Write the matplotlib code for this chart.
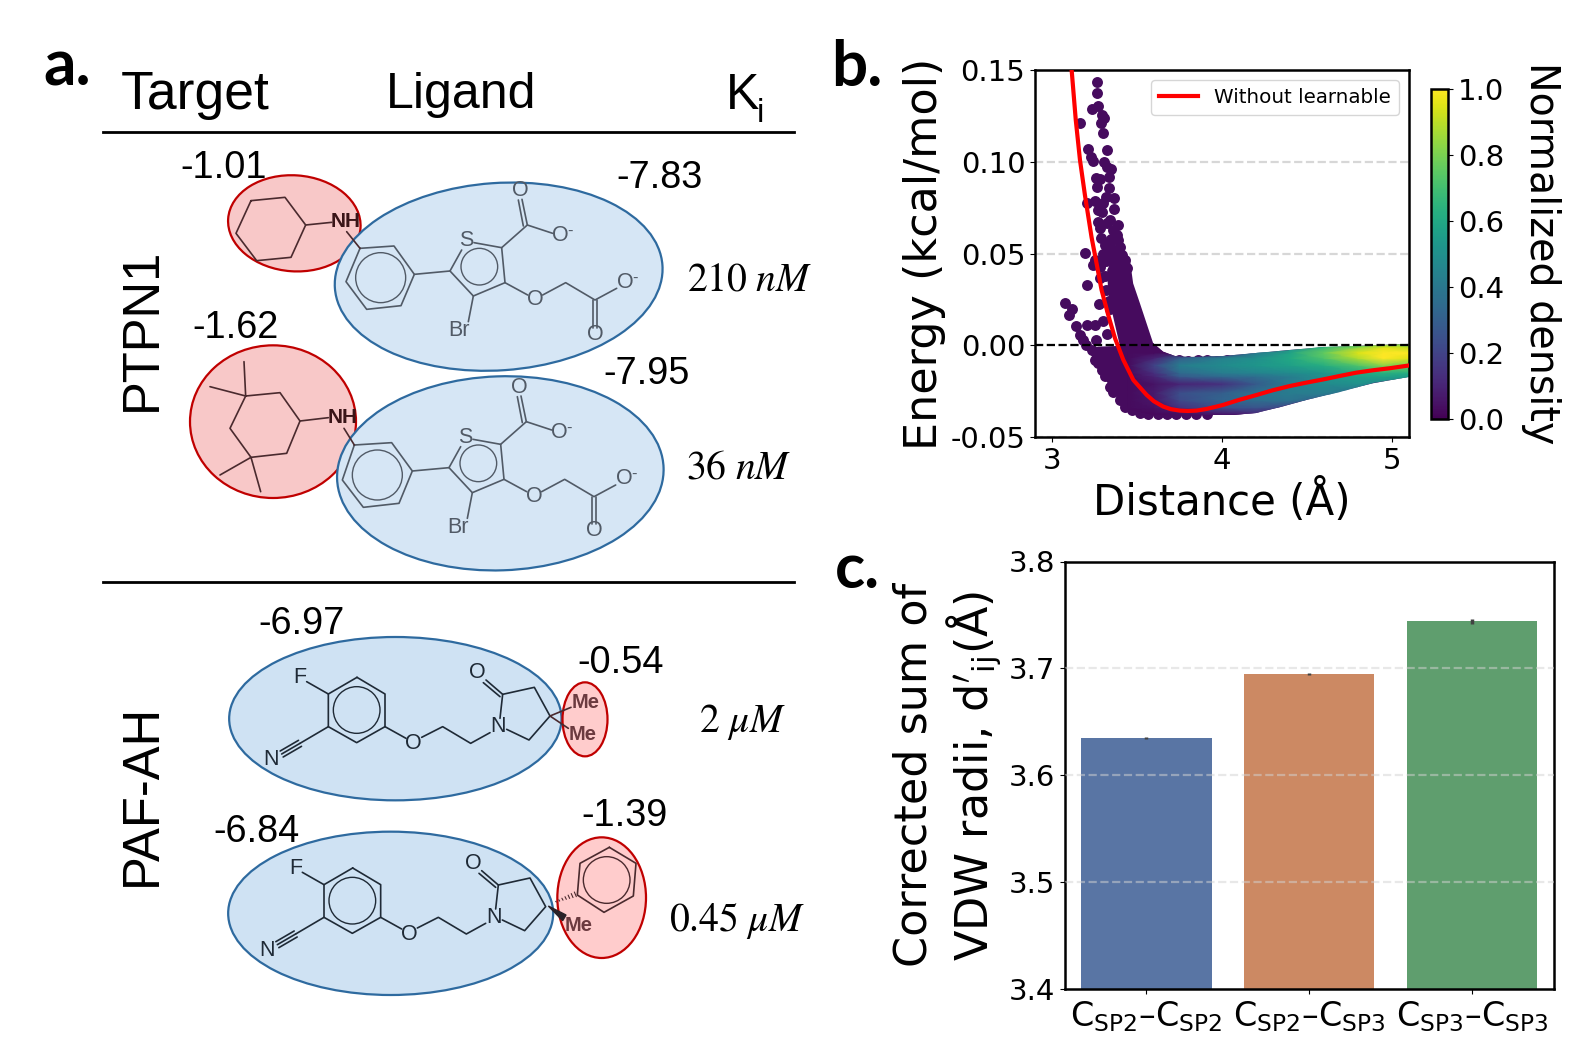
import matplotlib

matplotlib.use("Agg")
import matplotlib.pyplot as plt
import numpy as np
from matplotlib.cm import ScalarMappable
from matplotlib.colors import Normalize
from matplotlib.patches import Circle, Ellipse, Polygon

W, H = 1595, 1058

# panel b: LJ curve without the learnable part
curve_dist = [3.10, 3.116, 3.14, 3.165, 3.194, 3.233, 3.263, 3.292, 3.331, 3.371, 3.42, 3.479, 3.557, 3.60, 3.655,
              3.70, 3.753, 3.80, 3.851, 3.91, 3.969, 4.008, 4.10, 4.204, 4.30, 4.40, 4.50, 4.596, 4.70, 4.792,
              4.89, 4.988, 5.1]
curve_energy = [0.173, 0.15, 0.123, 0.101, 0.082, 0.059, 0.0445, 0.0302, 0.0166, 0.0039, -0.0079, -0.0189, -0.027,
                -0.0305, -0.0334, -0.0348, -0.0356, -0.0358, -0.0356, -0.0347, -0.0334, -0.0325, -0.0298, -0.0271,
                -0.0245, -0.0222, -0.0203, -0.0186, -0.0166, -0.0149, -0.0136, -0.0125, -0.011]

# single points that can be told apart
point_dist = [3.263, 3.263, 3.269, 3.237, 3.296, 3.306, 3.288, 3.165, 3.298, 3.214, 3.326, 3.229, 3.243, 3.306,
              3.326, 3.345, 3.335, 3.257, 3.282, 3.263, 3.337, 3.318, 3.365, 3.253, 3.204, 3.302, 3.367, 3.273,
              3.292, 3.341, 3.273, 3.322, 3.39, 3.282, 3.361, 3.288, 3.38, 3.39, 3.194, 3.312, 3.4, 3.322, 3.41,
              3.253, 3.429, 3.243, 3.292, 3.351, 3.439, 3.282,
              3.204, 3.077, 3.116, 3.102, 3.141, 3.208, 3.253, 3.298, 3.277, 3.322, 3.165, 3.184, 3.257, 3.2,
              3.233, 3.312, 3.341, 3.273, 3.4, 3.282,
              3.253, 3.292, 3.361, 3.429, 3.469, 3.518, 3.567, 3.626, 3.675, 3.733, 3.792, 3.851, 3.91,
              3.66, 3.71, 3.75, 3.80, 3.86, 3.91, 3.97, 4.03, 4.09, 4.15,
              3.30, 3.32, 3.34, 3.37, 3.39, 3.41, 3.43, 3.44, 3.455, 3.47, 3.315, 3.32, 3.335, 3.34, 3.35, 3.36]
point_energy = [0.1438, 0.1374, 0.1305, 0.1287, 0.1256, 0.1242, 0.1211, 0.1211, 0.116, 0.1071, 0.1064, 0.1029,
                0.1007, 0.1002, 0.0975, 0.096, 0.092, 0.0915, 0.0905, 0.0862, 0.0856, 0.0811, 0.0802, 0.0789,
                0.0775, 0.0775, 0.0746, 0.0738, 0.0729, 0.0684, 0.0675, 0.0665, 0.0656, 0.0638, 0.0629, 0.0584,
                0.0602, 0.0575, 0.0502, 0.0547, 0.0538, 0.0511, 0.0493, 0.0466, 0.0466, 0.0438, 0.0457, 0.0466,
                0.042, 0.0429,
                0.0331, 0.0229, 0.0201, 0.0166, 0.0106, 0.0111, 0.0111, 0.0133, 0.0226, 0.0062, 0.0057, 0.0029,
                0.0029, 0.0002, -0.0025, -0.0167, -0.0225, -0.0098, -0.0298, 0.0366,
                -0.0079, -0.0134, -0.0252, -0.0334, -0.0352, -0.0367, -0.0372, -0.0372, -0.0372, -0.0372,
                -0.0372, -0.0374, -0.0374,
                -0.0080, -0.0083, -0.0080, -0.0084, -0.0082, -0.0080, -0.0083, -0.0079, -0.0078, -0.0076,
                0.05, 0.046, 0.056, 0.052, 0.048, 0.043, 0.037, 0.033, 0.028, 0.024, 0.038, 0.03, 0.024, 0.02,
                0.058, 0.047]

# outline of the dense cloud
cloud_dist = [3.36, 3.459, 3.478, 3.518, 3.557, 3.596, 3.655, 3.724, 3.812, 4.008, 4.204, 4.4, 4.596, 4.792, 5.1,
              5.1, 4.89, 4.694, 4.498, 4.341, 4.204, 4.067, 3.91, 3.6, 3.45, 3.4, 3.33, 3.27, 3.215, 3.27, 3.4,
              3.36, 3.331, 3.325]
cloud_energy = [0.048, 0.0466, 0.0338, 0.0229, 0.012, 0.0011, -0.0034, -0.0058, -0.0065, -0.0058, -0.0043, -0.0025,
                -0.0011, -0.0003, 0.0008,
                -0.0172, -0.0207, -0.0252, -0.0298, -0.0338, -0.0367, -0.038, -0.0378, -0.0378, -0.0345, -0.03,
                -0.021, -0.011, -0.003, -0.0007, -0.0003, 0.0157, 0.0284, 0.0411]

# density
density_dist = [3.45, 3.6, 3.75, 4.0, 4.2, 4.4, 4.6, 4.8, 4.95, 5.1]
density_energy = [-0.039, -0.037, -0.034, -0.03, -0.026, -0.021, -0.017, -0.015, -0.011, -0.007, -0.004, -0.001, 0.001]
density = [
    [.02, .02, .02, .02, .03, .03, .03, .03, .03, .03],
    [.02, .02, .04, .08, .12, .05, .03, .03, .03, .03],
    [.03, .04, .14, .24, .26, .20, .10, .05, .05, .05],
    [.03, .06, .22, .32, .36, .38, .30, .20, .20, .20],
    [.03, .07, .24, .30, .38, .42, .42, .35, .30, .30],
    [.03, .05, .10, .14, .28, .42, .48, .50, .45, .40],
    [.03, .10, .28, .34, .36, .42, .50, .56, .58, .55],
    [.03, .14, .34, .42, .45, .48, .52, .60, .64, .62],
    [.03, .20, .42, .48, .52, .56, .62, .72, .82, .78],
    [.03, .10, .30, .44, .50, .60, .72, .88, 1.0, .95],
    [.03, .03, .03, .12, .40, .58, .76, .95, 1.0, 1.0],
    [.03, .03, .03, .03, .12, .48, .66, .82, .95, .90],
    [.03, .03, .03, .03, .03, .12, .50, .66, .78, .75],
]

# panel c
bond_types = [r"$\mathregular{C_{SP2}}$–$\mathregular{C_{SP2}}$",
              r"$\mathregular{C_{SP2}}$–$\mathregular{C_{SP3}}$",
              r"$\mathregular{C_{SP3}}$–$\mathregular{C_{SP3}}$"]
radii = [3.635, 3.695, 3.744]
radii_err = [0.0012, 0.0012, 0.0022]
bar_colors = ["#5975a4", "#cc8963", "#5f9e6e"]

# panel a labels: x, y centre, text
energies = [(223.8, 167.8, "-1.01"), (659, 178, "-7.83"), (235, 328.5, "-1.62"), (647, 374.3, "-7.95"),
            (302, 624.5, "-6.97"), (620.5, 663, "-0.54"), (256.3, 832, "-6.84"), (624.6, 815.7, "-1.39")]
ki_labels = [(749.7, 279.7, r"$210\ nM$"), (738.5, 467.9, r"$36\ nM$"),
             (742.6, 722, r"$2\ \mu M$"), (737.5, 920.5, r"$0.45\ \mu M$")]

BLUE_FILL, BLUE_EDGE = "#d6e6f5", "#2e6a9f"
BLUE_FILL2 = "#cfe2f3"
RED_FILL, RED_EDGE = "#f8c8c8", "#c00000"
RED_FILL2 = "#ffcccc"
BOND_GRAY = "#515a66"
BOND_DARK = "#1f2a36"
BOND_RED = "#4a2a2e"


def px_axes(fig, left, top, right, bottom):
    return fig.add_axes([left / W, 1 - bottom / H, (right - left) / W, (bottom - top) / H])


fig = plt.figure(figsize=(W / 100, H / 100), dpi=100)
canvas = fig.add_axes([0, 0, 1, 1])
canvas.set_xlim(0, W)
canvas.set_ylim(H, 0)
canvas.axis("off")


class Sketch:
    """Draws on the canvas using the 3x coordinates of the crops it was traced from."""

    def __init__(self, ox, oy):
        self.ox, self.oy = ox, oy

    def xy(self, x, y):
        return self.ox + x / 3, self.oy + y / 3

    def ellipse(self, x, y, w, h, angle, fill, edge):
        canvas.add_patch(Ellipse(self.xy(x, y), w / 3, h / 3, angle=angle, facecolor=fill, edgecolor=edge, lw=1.6))

    def line(self, pts, color, lw=1.2):
        p = np.array([self.xy(*q) for q in pts])
        canvas.plot(p[:, 0], p[:, 1], color=color, lw=lw, solid_capstyle="round")

    def ring(self, pts, color):
        self.line(pts + pts[:1], color)

    def circle(self, x, y, r, color):
        canvas.add_patch(Circle(self.xy(x, y), r / 3, fill=False, edgecolor=color, lw=1.0))

    def atom(self, x, y, s, color, size=15.5, weight="normal"):
        px, py = self.xy(x, y)
        canvas.text(px, py, s, color=color, fontsize=size, family="Liberation Sans", weight=weight,
                    ha="center", va="center")


def thiophene_ligand(sk, dx, dy, benzene, ring_c, color):
    def mv(pts):
        return [(x + dx, y + dy) for x, y in pts]

    sk.ring(benzene, color)
    sk.circle(ring_c[0], ring_c[1], 75, color)
    sk.line([benzene[2], mv([(840, 393)])[0]], color)
    sk.line(mv([(875, 330), (840, 393), (910, 468), (1005, 428), (995, 323), (912, 308)]), color)
    sk.circle(928 + dx, 380 + dy, 55, color)
    sk.line(mv([(995, 323), (1072, 255), (1148, 280)]), color)
    sk.line(mv([(1072, 255), (1056, 178)]), color)
    sk.line(mv([(1060, 258), (1045, 180)]), color)
    sk.line(mv([(1005, 428), (1073, 465)]), color)
    sk.line(mv([(1118, 465), (1187, 428), (1275, 480), (1340, 445)]), color)
    sk.line(mv([(1270, 480), (1270, 563)]), color)
    sk.line(mv([(1282, 480), (1282, 563)]), color)
    sk.line(mv([(910, 468), (895, 545)]), color)
    for x, y, s in [(890, 302, "S"), (1050, 152, "O"), (1172, 287, "O"), (1095, 478, "O"),
                    (1367, 427, "O"), (1275, 583, "O"), (868, 572, "Br")]:
        sk.atom(x + dx, y + dy, s, color)
    sk.atom(1200 + dx, 274 + dy, "-", color, size=12)
    sk.atom(1395 + dx, 414 + dy, "-", color, size=12)


def pyrrolidone_ligand(sk, dx, dy, color):
    def mv(pts):
        return [(x + dx, y + dy) for x, y in pts]

    sk.ring(mv([(471, 232), (555, 282), (555, 380), (470, 428), (385, 380), (385, 282)]), color)
    sk.circle(470 + dx, 330 + dy, 70, color)
    sk.line(mv([(385, 282), (320, 245)]), color)
    sk.line(mv([(385, 380), (300, 430)]), color)
    for off in [-9, 0, 9]:
        sk.line(mv([(300 + off * .5, 430 + off), (245 + off * .5, 462 + off)]), color)
    sk.line(mv([(555, 380), (618, 415)]), color)
    sk.line(mv([(665, 412), (728, 380), (812, 430), (870, 398)]), color)
    sk.line(mv([(900, 355), (908, 283), (1003, 262), (1050, 348), (987, 420), (920, 388)]), color)
    sk.line(mv([(908, 283), (858, 240)]), color)
    sk.line(mv([(900, 290), (850, 248)]), color)
    for x, y, s in [(300, 233, "F"), (213, 478, "N"), (640, 430, "O"), (895, 380, "N"), (832, 218, "O")]:
        sk.atom(x + dx, y + dy, s, color)


# PTPN1 pair
top = Sketch(170, 140)
top.ellipse(373, 250, 398, 288, 4, RED_FILL, RED_EDGE)
top.ellipse(986, 410, 985, 562, -4, BLUE_FILL, BLUE_EDGE)
top.ellipse(309, 845, 498, 458, 0, RED_FILL, RED_EDGE)
top.ellipse(991, 1000, 980, 582, -2, BLUE_FILL, BLUE_EDGE)

thiophene_ligand(top, 0, 0, [(570, 325), (672, 318), (733, 403), (693, 497), (590, 508), (528, 425)],
                 (632, 413), BOND_GRAY)
thiophene_ligand(top, -3, 590, [(553, 915), (665, 908), (727, 993), (687, 1090), (580, 1102), (517, 1020)],
                 (622, 1005), BOND_GRAY)

top.ring([(243, 182), (345, 172), (407, 255), (363, 352), (260, 362), (198, 280)], BOND_RED)
top.line([(407, 255), (485, 247)], BOND_RED)
top.line([(530, 275), (570, 325)], BOND_RED)
top.atom(527, 245, "NH", "#3a1518", size=15, weight="bold")
top.ring([(227, 768), (330, 758), (390, 843), (350, 940), (243, 952), (180, 865)], BOND_RED)
top.line([(222, 665), (227, 768), (120, 740)], BOND_RED)
top.line([(150, 1005), (243, 952), (272, 1055)], BOND_RED)
top.line([(390, 843), (475, 833)], BOND_RED)
top.line([(522, 865), (553, 915)], BOND_RED)
top.atom(517, 833, "NH", "#3a1518", size=15, weight="bold")

# PAF-AH pair
low = Sketch(200, 600)
low.ellipse(586, 356, 997, 490, 0, BLUE_FILL2, BLUE_EDGE)
low.ellipse(1155, 358, 135, 222, 0, RED_FILL2, RED_EDGE)
low.ellipse(572, 940, 975, 490, 0, BLUE_FILL2, BLUE_EDGE)
low.ellipse(1205, 893, 266, 362, 0, RED_FILL2, RED_EDGE)

pyrrolidone_ligand(low, 0, 0, BOND_DARK)
pyrrolidone_ligand(low, -13, 572, BOND_DARK)

low.line([(1113, 322), (1050, 348), (1105, 385)], BOND_RED)
low.atom(1158, 307, "Me", "#6b3a3f", size=14.5, weight="bold")
low.atom(1148, 405, "Me", "#6b3a3f", size=14.5, weight="bold")
low.ring([(1228, 742), (1308, 790), (1300, 888), (1212, 937), (1132, 885), (1140, 790)], BOND_RED)
low.circle(1220, 840, 70, BOND_RED)
for k in range(7):
    frac = k / 6
    hx, hy = 1068 + 58 * frac, 905 - 22 * frac
    low.line([(hx - 1 - 2 * frac, hy - 1 - 6 * frac), (hx + 1 + 2 * frac, hy + 1 + 6 * frac)], BOND_RED, lw=0.8)
canvas.add_patch(Polygon([low.xy(1045, 918), low.xy(1098, 945), low.xy(1088, 962)], color="#2a2228"))
low.atom(1135, 977, "Me", "#6b3a3f", size=14.5, weight="bold")

# header and labels of panel a
TEXT_FONT = "Liberation Sans"
canvas.text(43, 86, "a.", fontsize=46, family="Lato", weight="bold", va="baseline")
canvas.text(831, 86, "b.", fontsize=46, family="Lato", weight="bold", va="baseline")
canvas.text(835, 588, "c.", fontsize=45, family="Lato", weight="bold", va="baseline")
canvas.text(195, 109, "Target", fontsize=38.5, family=TEXT_FONT, ha="center", va="baseline")
canvas.text(461, 108, "Ligand", fontsize=36, family=TEXT_FONT, ha="center", va="baseline")
canvas.text(726, 109, "K", fontsize=36, family=TEXT_FONT, va="baseline")
canvas.text(757, 122, "i", fontsize=24, family=TEXT_FONT, va="baseline")
canvas.plot([103, 793.5], [132.2, 132.2], color="black", lw=2)
canvas.plot([103, 793.5], [582, 582], color="black", lw=2)
canvas.text(142.4, 329, "PTPN1", fontsize=36.5, family=TEXT_FONT, rotation=90, ha="center", va="center")
canvas.text(142.4, 795, "PAF-AH", fontsize=36.5, family=TEXT_FONT, rotation=90, ha="center", va="center")
for x, y, s in energies:
    canvas.text(x, y, s, fontsize=27.3, family=TEXT_FONT, ha="center", va="center")
for x, y, s in ki_labels:
    canvas.text(x, y, s, fontsize=28.5, math_fontfamily="stix", ha="center", va="center")

# panel b
ax_b = px_axes(fig, 1035, 70.4, 1408.6, 437)
ax_b.set_xlim(2.9, 5.1)
ax_b.set_ylim(-0.05, 0.15)
ax_b.grid(axis="y", color="lightgray", linestyle="--", lw=1.6, alpha=0.9)
ax_b.set_axisbelow(True)
dark = plt.get_cmap("viridis")(0.03)
ax_b.scatter(point_dist, point_energy, s=62, color=dark, linewidths=0, zorder=2)
body = Polygon(np.column_stack([cloud_dist, cloud_energy]), closed=True, facecolor=dark, edgecolor="none", zorder=2.1)
ax_b.add_patch(body)
mesh = ax_b.pcolormesh(density_dist, density_energy, np.array(density), cmap="viridis", vmin=0, vmax=1,
                       shading="gouraud", zorder=2.2)
mesh.set_clip_path(body)
ax_b.axhline(0, color="black", linestyle="--", lw=1.6, zorder=3)
ax_b.plot(curve_dist, curve_energy, color="red", lw=3, label="Without learnable", zorder=4)
ax_b.set_xticks([3, 4, 5])
ax_b.set_yticks([-0.05, 0, 0.05, 0.10, 0.15])
ax_b.set_yticklabels(["-0.05", "0.00", "0.05", "0.10", "0.15"])
ax_b.tick_params(labelsize=21)
ax_b.legend(loc="upper right", fontsize=14.3, bbox_to_anchor=(0.985, 0.985), borderaxespad=0.2)
ax_b.set_xlabel("Distance (Å)", fontsize=30.2, labelpad=3)
ax_b.set_ylabel("Energy (kcal/mol)", fontsize=32, labelpad=3)
for sp in ax_b.spines.values():
    sp.set_linewidth(1.8)

cax = px_axes(fig, 1431, 88.5, 1448, 419)
cbar = fig.colorbar(ScalarMappable(Normalize(0, 1), cmap="viridis"), cax=cax)
cbar.set_ticks([0, 0.2, 0.4, 0.6, 0.8, 1.0])
cbar.ax.tick_params(labelsize=21)
cbar.outline.set_linewidth(1.8)
cbar.set_label("Normalized density", fontsize=28.5, rotation=270, labelpad=41)

# panel c
ax_c = px_axes(fig, 1065, 561.5, 1553.5, 989.3)
x_pos = np.arange(len(radii))
ax_c.bar(x_pos, radii, width=0.8, color=bar_colors, yerr=radii_err, ecolor="#424242",
         error_kw={"elinewidth": 2.5}, zorder=1)
ax_c.set_xlim(-0.5, 2.5)
ax_c.set_ylim(3.4, 3.8)
ax_c.set_yticks([3.4, 3.5, 3.6, 3.7, 3.8])
ax_c.set_xticks(x_pos)
ax_c.set_xticklabels(bond_types)
ax_c.tick_params(axis="y", labelsize=21)
ax_c.tick_params(axis="x", labelsize=24)
ax_c.grid(axis="y", color="lightgray", linestyle="--", lw=1.6, alpha=0.5, zorder=2)
ax_c.set_axisbelow(False)
grid_lines = ax_c.yaxis.get_gridlines()
grid_lines[0].set_visible(False)
grid_lines[-1].set_visible(False)
ax_c.set_ylabel("Corrected sum of\nVDW radii, $\\mathregular{d}'_{\\mathregular{ij}}$(Å)", fontsize=32, labelpad=4)
for sp in ax_c.spines.values():
    sp.set_linewidth(1.8)

fig.savefig("out.png", dpi=100)
